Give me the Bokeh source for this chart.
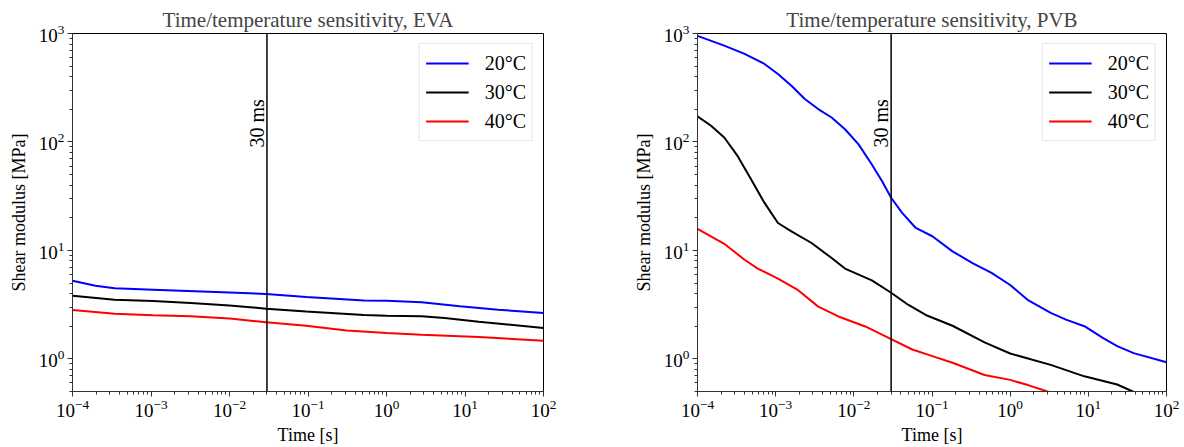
from bokeh.plotting import figure
from bokeh.layouts import row
from bokeh.models import Span, Label, LogTicker
from bokeh.embed import file_html
from bokeh.resources import INLINE

# ---------------- data ----------------
labels = ["20°C", "30°C", "40°C"]
colors = ["blue", "black", "red"]

# EVA
eva_t_20 = [1e-4, 1.96e-4, 3.44e-4, 1.06e-3, 1.0e-2, 2.93e-2, 9.5e-2, 0.516, 1.01, 2.8, 8.6, 26.5, 100]
eva_g_20 = [5.25, 4.72, 4.47, 4.34, 4.1, 3.96, 3.72, 3.46, 3.44, 3.32, 3.05, 2.84, 2.65]
eva_t_30 = [1e-4, 3.44e-4, 1.06e-3, 3.2e-3, 1.0e-2, 2.93e-2, 9.5e-2, 0.516, 1.01, 2.8, 5.5, 15, 100]
eva_g_30 = [3.82, 3.51, 3.41, 3.27, 3.11, 2.90, 2.74, 2.54, 2.50, 2.47, 2.38, 2.20, 1.93]
eva_t_40 = [1e-4, 3.44e-4, 1.06e-3, 3.2e-3, 1.0e-2, 2.93e-2, 9.5e-2, 0.31, 1.01, 2.8, 15, 100]
eva_g_40 = [2.82, 2.61, 2.52, 2.47, 2.35, 2.17, 2.02, 1.83, 1.73, 1.67, 1.59, 1.47]

# PVB
pvb_t_20 = [1e-4, 2.2e-4, 4.0e-4, 7.2e-4, 1.07e-3, 1.59e-3, 2.36e-3, 3.5e-3, 5.2e-3, 7.7e-3,
            1.15e-2, 1.7e-2, 2.3e-2, 3.0e-2, 4.15e-2, 6.2e-2, 0.101, 0.183, 0.334, 0.578,
            1.0, 1.67, 3.3, 5.18, 8.9, 15.5, 23.4, 38, 100]
pvb_g_20 = [950, 774, 648, 524, 423, 330, 249, 201, 168, 131,
            95, 62, 43.5, 30.6, 22.2, 16.1, 13.5, 9.8, 7.6, 6.2,
            4.8, 3.5, 2.65, 2.3, 2.0, 1.55, 1.31, 1.13, 0.93]
pvb_t_30 = [1e-4, 1.49e-4, 2.2e-4, 3.27e-4, 4.86e-4, 7.2e-4, 1.07e-3, 1.59e-3, 2.88e-3, 5.2e-3,
            7.7e-3, 1.7e-2, 3.0e-2, 5.0e-2, 8.3e-2, 0.183, 0.47, 1.0, 3.3, 8.9, 23.4, 37, 100]
pvb_g_30 = [172, 141, 110, 74, 45, 27.4, 17.9, 15.0, 11.7, 8.5,
            6.8, 5.3, 4.07, 3.14, 2.54, 2.02, 1.42, 1.12, 0.88, 0.69, 0.58, 0.5, 0.40]
pvb_t_40 = [1e-4, 2.2e-4, 4.0e-4, 5.9e-4, 1.07e-3, 1.94e-3, 3.5e-3, 6.35e-3, 1.4e-2, 3.0e-2,
            5.6e-2, 0.101, 0.183, 0.47, 1.0, 1.73, 3.0, 10, 100]
pvb_g_40 = [15.8, 11.5, 8.2, 6.8, 5.5, 4.3, 3.03, 2.46, 1.99, 1.52,
            1.22, 1.06, 0.92, 0.71, 0.64, 0.57, 0.50, 0.42, 0.32]

t_mark = 0.03
mark_text = "30 ms"
x_range = (1e-4, 1e2)
y_range = (0.5, 1e3)

FONT = "Liberation Serif"


def make_panel(title, series, width, bl, br):
    p = figure(width=width, height=447, x_axis_type="log", y_axis_type="log",
               x_range=x_range, y_range=y_range, output_backend="svg",
               toolbar_location=None, min_border_left=bl, min_border_right=br,
               min_border_top=33, min_border_bottom=55)
    p.title.text = title
    p.title.align = "center"
    p.title.text_font = FONT
    p.title.text_font_size = "21px"
    p.title.text_font_style = "normal"
    p.title.standoff = 4
    p.title.offset = 0
    p.grid.visible = False
    p.outline_line_color = "black"
    p.outline_line_width = 1
    p.outline_line_alpha = 1
    for ax in (p.xaxis[0], p.yaxis[0]):
        ax.ticker = LogTicker(num_minor_ticks=10)
        ax.major_label_text_font = FONT
        ax.major_label_text_font_size = "19px"
        ax.major_label_text_color = "black"
        ax.axis_label_text_font = FONT
        ax.axis_label_text_font_size = "18px"
        ax.axis_label_text_font_style = "normal"
        ax.axis_label_text_color = "black"
        ax.axis_line_color = "#333333"
        ax.major_tick_line_color = "#333333"
        ax.minor_tick_line_color = "#333333"
        ax.major_tick_out = 5
        ax.major_tick_in = 0
        ax.minor_tick_out = 3
        ax.minor_tick_in = 0
        ax.major_label_standoff = 3
    p.xaxis.axis_label = "Time [s]"
    p.xaxis.axis_label_standoff = 5
    p.yaxis.axis_label = "Shear modulus [MPa]"
    p.yaxis.axis_label_standoff = 7

    for (t, g), lab, col in zip(series, labels, colors):
        p.line(t, g, line_color=col, line_width=2, legend_label=lab)

    p.add_layout(Span(location=t_mark, dimension="height", line_color="black", line_width=1.5))
    p.add_layout(Label(x=t_mark, y=89, text=mark_text, angle=90, angle_units="deg",
                       x_offset=-10, text_align="left", text_baseline="middle",
                       text_font=FONT, text_font_size="20px", text_color="black"))

    lg = p.legend[0]
    lg.location = "top_right"
    lg.margin = 10
    lg.padding = 6
    lg.spacing = 3
    lg.glyph_height = 26
    lg.label_height = 26
    lg.glyph_width = 43
    lg.label_standoff = 16
    lg.label_text_font = FONT
    lg.label_text_font_size = "20px"
    lg.label_text_color = "black"
    lg.border_line_color = "#d0d0d0"
    lg.border_line_width = 1
    lg.background_fill_alpha = 0.9
    return p


p1 = make_panel("Time/temperature sensitivity, EVA",
                [(eva_t_20, eva_g_20), (eva_t_30, eva_g_30), (eva_t_40, eva_g_40)],
                592, 72, 49)
p2 = make_panel("Time/temperature sensitivity, PVB",
                [(pvb_t_20, pvb_g_20), (pvb_t_30, pvb_g_30), (pvb_t_40, pvb_g_40)],
                592, 105, 18)

layout = row(p1, p2)
open("out.html", "w").write(file_html(layout, INLINE))
